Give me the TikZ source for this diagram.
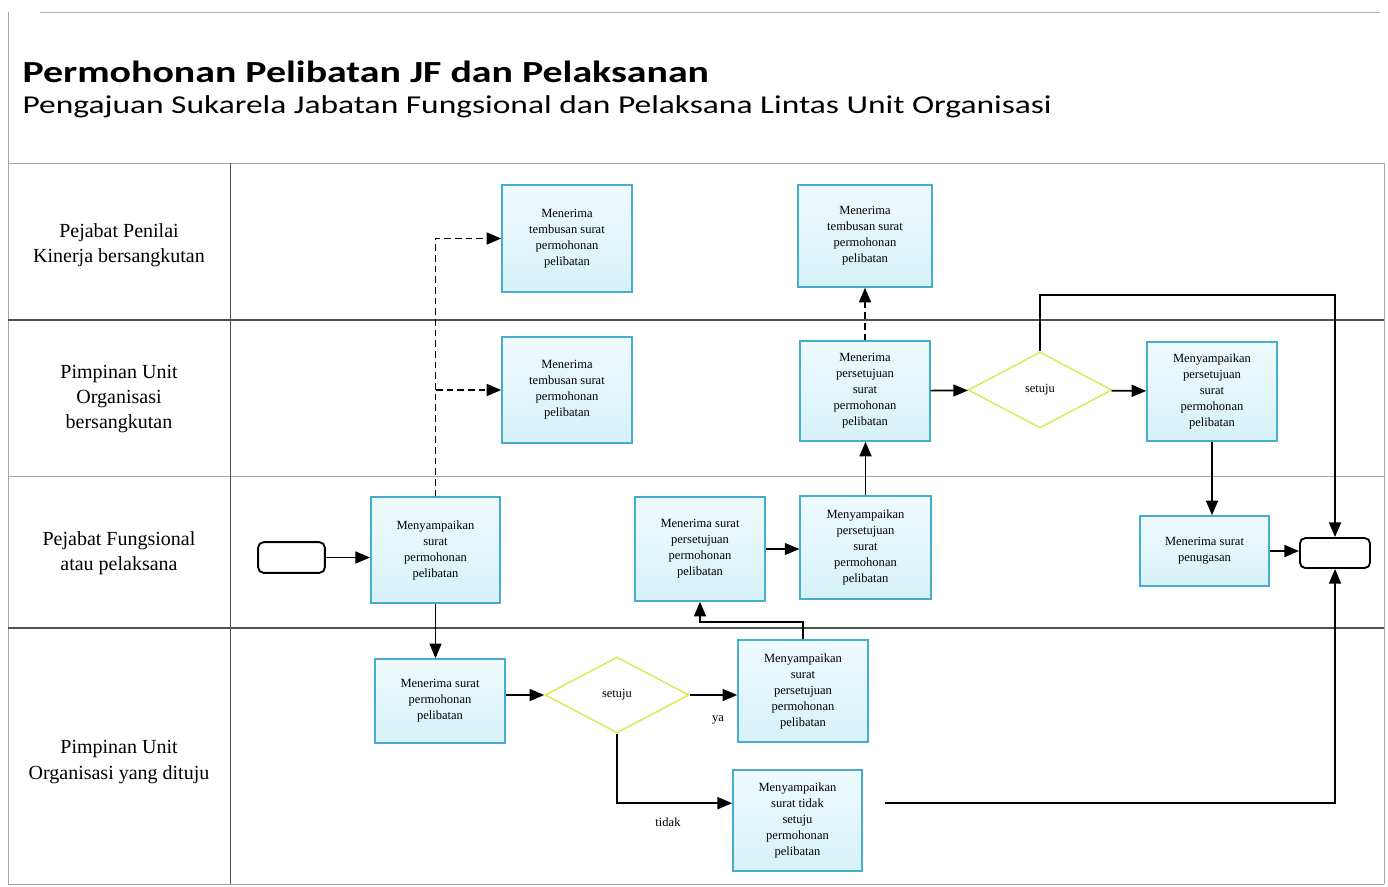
\documentclass[tikz,border=0pt]{standalone}
\usepackage{fontspec}
\setmainfont{Liberation Serif}
\newfontfamily\titlefont[FakeStretch=1.3]{Carlito}
\usetikzlibrary{arrows.meta,shapes.geometric}

\definecolor{boxline}{RGB}{70,172,208}
\definecolor{boxfill}{RGB}{214,242,248}
\definecolor{decline}{RGB}{222,232,96}
\definecolor{laneline}{RGB}{80,80,80}

\tikzset{every picture/.style={line width=0.75pt}}
\tikzset{
  actbox/.style={draw=boxline,line width=1.1pt,top color=boxfill!40!white,bottom color=boxfill,minimum width=97.5pt,inner sep=2pt,align=center,font=\fontsize{9.4}{12}\selectfont},
  decbox/.style={diamond,draw=decline,line width=1.2pt,fill=white,minimum width=108pt,minimum height=57pt,inner sep=0pt,font=\fontsize{9.4}{12}\selectfont},
  termbox/.style={draw,line width=1.4pt,rounded corners=4pt,fill=white,inner sep=0pt},
  flow/.style={line width=1.3pt,-{Triangle[length=11pt,width=9pt]}},
  thinflow/.style={line width=0.8pt,-{Triangle[length=11pt,width=9pt]}},
  lanetext/.style={align=center,font=\fontsize{15}{19}\selectfont,inner sep=0pt},
}

\begin{document}
\begin{tikzpicture}[x=0.75pt,y=0.75pt,yscale=-1,xscale=1]
\useasboundingbox (0,0) rectangle (1388,886);

%Frame and lanes
\draw [gray!60]  (40,12) -- (1380,12) ;
\draw [gray!70]  (8,12) -- (8,884) ;
\draw [gray!70]  (8,163) -- (1384,163) ;
\draw [laneline, line width=1pt]  (8,320) -- (1384,320) ;
\draw [gray!70]  (8,476) -- (1384,476) ;
\draw [laneline, line width=1pt]  (8,628) -- (1384,628) ;
\draw [gray!70]  (8,884) -- (1384,884) ;
\draw [laneline]  (230,163) -- (230,884) ;
\draw [gray!70]  (1384,163) -- (1384,884) ;

% Title
\draw (22,82) node [anchor=base west][inner sep=0pt][font=\titlefont\bfseries\fontsize{23}{28}\selectfont] (title) {Permohonan Pelibatan JF dan Pelaksanan};
\draw (22,113) node [anchor=base west][inner sep=0pt][font=\titlefont\fontsize{19.3}{23}\selectfont] (subtitle) {Pengajuan Sukarela Jabatan Fungsional dan Pelaksana Lintas Unit Organisasi};

% Lane labels
\draw (119,245) node [lanetext] (lane1) {Pejabat Penilai\\Kinerja bersangkutan};
\draw (119,399) node [lanetext] (lane2) {Pimpinan Unit\\Organisasi\\bersangkutan};
\draw (119,553) node [lanetext] (lane3) {Pejabat Fungsional\\atau pelaksana};
\draw (119,762) node [lanetext] (lane4) {Pimpinan Unit\\Organisasi yang dituju};

%Pejabat Penilai Kinerja
\draw (567,238.5) node [actbox, minimum height=80pt] (pp1) {Menerima\\tembusan surat\\permohonan\\pelibatan};
\draw (865,236) node [actbox, minimum width=100.5pt, minimum height=76.5pt] (pp2) {Menerima\\tembusan surat\\permohonan\\pelibatan};

%Pimpinan Unit bersangkutan
\draw (567,390) node [actbox, minimum height=79.5pt] (pu1) {Menerima\\tembusan surat\\permohonan\\pelibatan};
\draw (865,391) node [actbox, minimum height=75pt] (pu2) {Menerima\\persetujuan\\surat\\permohonan\\pelibatan};
\draw (1040,390) node [decbox] (pud) {setuju};
\draw (1212,391.5) node [actbox, minimum height=74pt] (pu3) {Menyampaikan\\persetujuan\\surat\\permohonan\\pelibatan};

%Pejabat Fungsional
\draw (291.5,557.5) node [termbox, minimum width=50pt, minimum height=23pt] (start) {};
\draw (435.5,550) node [actbox, minimum width=97pt, minimum height=79.5pt] (pf1) {Menyampaikan\\surat\\permohonan\\pelibatan};
\draw (700,549) node [actbox, minimum height=78pt] (pf2) {Menerima surat\\persetujuan\\permohonan\\pelibatan};
\draw (865.5,547.5) node [actbox, minimum width=98pt, minimum height=77pt] (pf3) {Menyampaikan\\persetujuan\\surat\\permohonan\\pelibatan};
\draw (1204.5,551) node [actbox, minimum width=97pt, minimum height=52.5pt] (pf4) {Menerima surat\\penugasan};
\draw (1335,553) node [termbox, minimum width=52.5pt, minimum height=22.5pt] (end) {};

%Pimpinan Unit yang dituju
\draw (440,701) node [actbox, minimum height=63pt] (pt1) {Menerima surat\\permohonan\\pelibatan};
\draw (617,695) node [decbox] (ptd) {setuju};
\draw (803,691) node [actbox, minimum height=76.5pt] (pt2) {Menyampaikan\\surat\\persetujuan\\permohonan\\pelibatan};
\draw (797.5,820.5) node [actbox, minimum width=97pt, minimum height=76pt] (pt3) {Menyampaikan\\surat tidak\\setuju\\permohonan\\pelibatan};

% Text Node
\draw (718,720) node [font=\fontsize{9.4}{11}\selectfont] (ya) {ya};
% Text Node
\draw (668,822) node [font=\fontsize{9.4}{11}\selectfont] (tidak) {tidak};

%Connectors
\draw [thinflow] (start.east) -- (start.east -| pf1.west) ;
\draw [flow, dash pattern=on 5pt off 3pt] (pf1.north) |- (pp1.west) ;
\draw [flow, dash pattern=on 5pt off 3pt] (pf1.north) |- (pu1.west) ;
\draw [thinflow] (pf1.south) -- (pf1.south |- pt1.north) ;
\draw [flow] (pt1.east |- ptd.west) -- (ptd.west) ;
\draw [flow] (ptd.east) -- (ptd.east -| pt2.west) ;
\draw [flow] (ptd.south) |- ([yshift=-13pt]pt3.west) ;
\draw [flow] (pt2.north) -- ++(0,-17) -| (pf2.south) ;
\draw [thinflow] (pf2.east) -- (pf2.east -| pf3.west) ;
\draw [flow] (pf3.north) -- (pf3.north |- pu2.south) ;
\draw [flow, dash pattern=on 5pt off 3pt] (pu2.north) -- (pu2.north |- pp2.south) ;
\draw [flow] (pu2) -- (pud) ;
\draw [flow] (pud) -- (pu3) ;
\draw [flow] (pud.north) -- ++(0,-56) -| (end.north) ;
\draw [flow] (pu3.south) -- (pu3.south |- pf4.north) ;
\draw [flow] (pf4.east) -- (pf4.east -| end.west) ;
\draw [flow] ([xshift=16.5pt,yshift=-13pt]pt3.east) -| (end.south) ;

\end{tikzpicture}
\end{document}
